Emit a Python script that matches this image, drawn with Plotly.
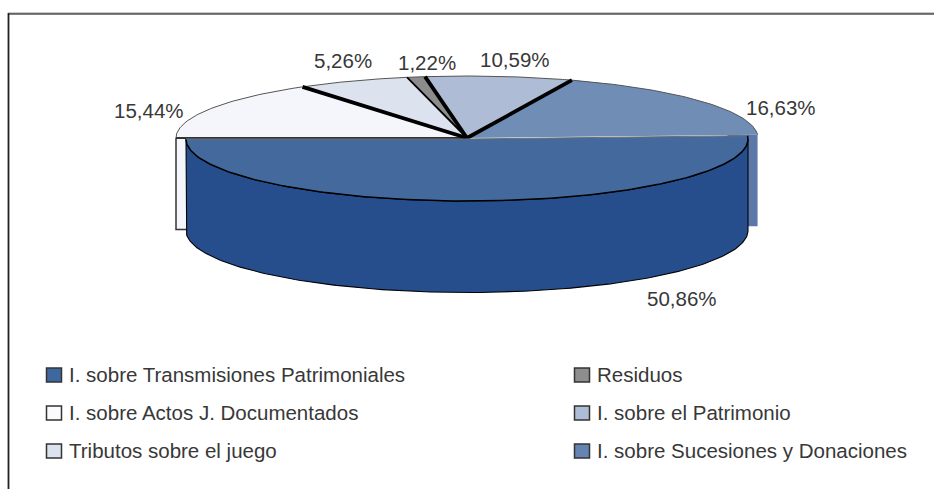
import numpy as np
import plotly.graph_objects as go

# ---- data ----
categories = ["I. sobre Transmisiones Patrimoniales", "I. sobre Actos J. Documentados",
              "Tributos sobre el juego", "Residuos", "I. sobre el Patrimonio",
              "I. sobre Sucesiones y Donaciones"]
values = [50.86, 15.44, 5.26, 1.22, 10.59, 16.63]

# ---- styles ----
top_colors = ["#446a9d", "#f4f6fb", "#dde3ee", "#8c8c8c", "#aebcd5", "#6f8db5"]
legend_colors = ["#3f679f", "#fbfbfd", "#dde3ee", "#8e8e8e", "#aebcd5", "#6485b3"]
front_side = "#264e8c"
right_side = "#5b78a8"
text_col = "#383838"
FONT = "Liberation Sans"
FSIZE = 20.5

# ---- pie geometry (pixels of the 934x489 page) ----
CX, CY, RX, RY = 467.0, 138.0, 291.0, 62.0
FCX, FCY, FRX, FRY = 467.0, 139.0, 281.0, 62.0
DEPTH = 91.5
START_LEFT = 180.0
# perspective correction of rim angle at each inner slice boundary on the back half
warp_deg = [0.0, 3.6, 2.8, -5.9]
edge_widths = [3.8, 1.8, 3.8, 3.8]
label_xy = [(682, 298), (149, 110), (343, 60), (427, 62), (515, 59), (781, 107)]
legend_xy = [(54, 375), (54, 413), (54, 451), (582, 375), (582, 413), (582, 451)]
legend_order = [0, 1, 2, 3, 4, 5]


def rim(deg, cx=CX, cy=CY, rx=RX, ry=RY):
    a = np.radians(deg)
    return cx + rx * np.cos(a), cy - ry * np.sin(a)


def poly(x, y, fill, line=None, width=1.0):
    return go.Scatter(x=list(x), y=list(y), mode="lines", fill="toself", fillcolor=fill,
                      line=dict(color=line or fill, width=width if line else 0),
                      hoverinfo="skip", showlegend=False)


def path(x, y, color, width):
    return go.Scatter(x=list(x), y=list(y), mode="lines", line=dict(color=color, width=width),
                      hoverinfo="skip", showlegend=False)


# boundary angles derived from the values, clockwise from the left end of the big slice
back_vals = values[1:]
cum = np.cumsum(back_vals) * 3.6
bounds = [START_LEFT] + [START_LEFT - c - w for c, w in zip(cum[:-1], warp_deg)] + [START_LEFT - cum[-1]]
right_end = bounds[-1]

fig = go.Figure()

# back side walls visible beyond the front slice
xl, yl = rim(180)
fig.add_trace(poly([xl, xl + 30, xl + 30, xl, xl], [yl, yl, yl + DEPTH, yl + DEPTH, yl],
                   top_colors[1], "#333333", 1.5))
xr, yr = rim(right_end)
fig.add_trace(poly([xr, xr - 30, xr - 30, xr, xr], [yr, yr, yr + DEPTH, yr + DEPTH, yr], right_side))

# back slice tops
for i in range(5):
    a0, a1 = bounds[i], bounds[i + 1]
    t = np.linspace(a0, a1, 60)
    rx, ry = rim(t)
    fig.add_trace(poly(np.r_[CX, rx, CX], np.r_[CY, ry, CY], top_colors[i + 1]))
    fig.add_trace(path(rx, ry, "#555555", 1.0))

# straight edges under back slices
fig.add_trace(path([xl, CX], [yl, CY], "#333333", 1.8))

# heavy edges between back slices
for a, w in zip(bounds[1:-1], edge_widths):
    ex, ey = rim(a)
    fig.add_trace(path([CX, ex], [CY, ey], "black", w))

# exploded front slice
span = values[0] * 3.6
t = np.linspace(right_end, right_end - span, 180)
fx, fy = rim(t, FCX, FCY, FRX, FRY)
t_low = np.linspace(0, -180, 180)
lx, ly = rim(t_low, FCX, FCY, FRX, FRY)
wall_x = np.r_[lx, lx[::-1]]
wall_y = np.r_[ly, (ly + DEPTH)[::-1]]
fig.add_trace(poly(np.r_[wall_x, wall_x[0]], np.r_[wall_y, wall_y[0]], front_side, "black", 1.1))
fig.add_trace(poly(np.r_[fx, FCX, fx[0]], np.r_[fy, FCY, fy[0]], top_colors[0]))
fig.add_trace(path(fx, fy, "black", 1.5))
fig.add_trace(path([fx[-1], FCX, fx[0]], [fy[-1], FCY, fy[0]], "#6f6f6f", 1.0))

annotations = []
# value labels
for v, (x, y) in zip(values, label_xy):
    annotations.append(dict(x=x, y=y, text=f"{v:.2f}%".replace(".", ","), showarrow=False,
                            xanchor="center", yanchor="middle",
                            font=dict(family=FONT, size=FSIZE, color=text_col)))

# legend
shapes = []
for idx, (x, y) in zip(legend_order, legend_xy):
    shapes.append(dict(type="rect", x0=x - 7.5, x1=x + 7.5, y0=y - 7, y1=y + 7, xref="x", yref="y",
                       fillcolor=legend_colors[idx], line=dict(color="#333333", width=1.5)))
    annotations.append(dict(x=x + 12.5, y=y - 0.5, text=categories[idx], showarrow=False, xanchor="left",
                            yanchor="middle", font=dict(family=FONT, size=FSIZE, color=text_col)))

# frame
shapes.append(dict(type="line", x0=8.5, x1=8.5, y0=13, y1=489, xref="x", yref="y",
                   line=dict(color="#222222", width=1.8)))
shapes.append(dict(type="line", x0=8, x1=934, y0=13, y1=13, xref="x", yref="y",
                   line=dict(color="#999999", width=1.2)))
shapes.append(dict(type="line", x0=8, x1=934, y0=14, y1=14, xref="x", yref="y",
                   line=dict(color="black", width=1.2)))

fig.update_layout(
    width=934, height=489, margin=dict(l=0, r=0, t=0, b=0),
    paper_bgcolor="white", plot_bgcolor="white", showlegend=False,
    xaxis=dict(range=[0, 934], visible=False, fixedrange=True),
    yaxis=dict(range=[489, 0], visible=False, fixedrange=True),
    shapes=shapes, annotations=annotations,
)
fig.write_html("out.html", config={"displayModeBar": False},
               post_script="document.body.style.margin='0';document.body.style.overflow='hidden';")
